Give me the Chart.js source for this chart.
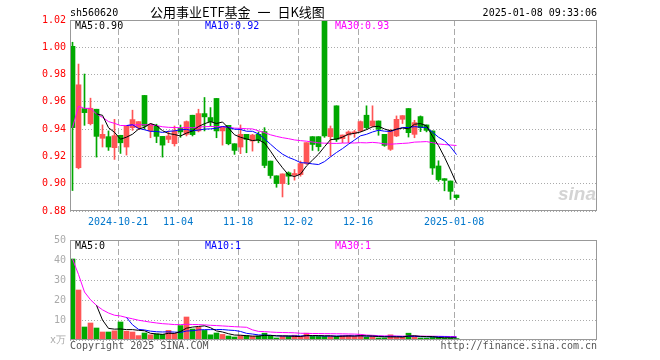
<!DOCTYPE html>
<html>
<head>
<meta charset="utf-8">
<script src="https://cdn.jsdelivr.net/npm/chart.js@4.4.1/dist/chart.umd.min.js"></script>
<style>
  body { margin: 0; background: #fff; width: 660px; height: 360px; position: relative; overflow: hidden; }
  canvas { position: absolute; left: 0; }
  .t { position: absolute; font: 10px/10px "DejaVu Sans Mono", monospace; white-space: pre; color: #000; }
</style>
</head>
<body>
<canvas id="kline" width="660" height="232" style="top:0"></canvas>
<canvas id="vol" width="660" height="130" style="top:230px"></canvas>

<div class="t" style="left:70px;top:8px">sh560620</div>
<div class="t" style="left:150px;top:5px;font:13px/14px 'Noto Sans CJK SC',sans-serif;word-spacing:4px">公用事业ETF基金 一 日K线图</div>
<div class="t" style="right:63px;top:8px">2025-01-08 09:33:06</div>
<div class="t" style="left:75px;top:21px">MA5:0.90</div>
<div class="t" style="left:205px;top:21px;color:#0000ff">MA10:0.92</div>
<div class="t" style="left:335px;top:21px;color:#ff00ff">MA30:0.93</div>
<div class="t" style="left:75px;top:241px">MA5:0</div>
<div class="t" style="left:205px;top:241px;color:#0000ff">MA10:1</div>
<div class="t" style="left:335px;top:241px;color:#ff00ff">MA30:1</div>
<div class="t" style="left:70px;top:341px;color:#555">Copyright 2025 SINA.COM</div>
<div class="t" style="right:63px;top:341px;color:#555">http://finance.sina.com.cn</div>
<div class="t" style="left:558px;top:184px;font:italic bold 19px/20px 'Liberation Sans',sans-serif;color:#d4d4d4">sina</div>

<script>
// ─── Data ────────────────────────────────────────────────────────────────────
const dates = [
  '2024-10-09','2024-10-10','2024-10-11','2024-10-14','2024-10-15','2024-10-16','2024-10-17','2024-10-18',
  '2024-10-21','2024-10-22','2024-10-23','2024-10-24','2024-10-25','2024-10-28','2024-10-29','2024-10-30','2024-10-31','2024-11-01',
  '2024-11-04','2024-11-05','2024-11-06','2024-11-07','2024-11-08','2024-11-11','2024-11-12','2024-11-13','2024-11-14','2024-11-15',
  '2024-11-18','2024-11-19','2024-11-20','2024-11-21','2024-11-22','2024-11-25','2024-11-26','2024-11-27','2024-11-28','2024-11-29',
  '2024-12-02','2024-12-03','2024-12-04','2024-12-05','2024-12-06','2024-12-09','2024-12-10','2024-12-11','2024-12-12','2024-12-13',
  '2024-12-16','2024-12-17','2024-12-18','2024-12-19','2024-12-20','2024-12-23','2024-12-24','2024-12-25','2024-12-26','2024-12-27',
  '2024-12-30','2024-12-31','2025-01-02','2025-01-03','2025-01-06','2025-01-07','2025-01-08'
];
const opens = [
  1.0007,0.9117,0.9551,0.9440,0.9546,0.9333,0.9345,0.9264,0.9355,0.9269,
  0.9411,0.9411,0.9647,0.9387,0.9421,0.9347,0.9325,0.9293,0.9405,0.9362,
  0.9502,0.9387,0.9514,0.9485,0.9625,0.9387,0.9428,0.9293,0.9269,0.9362,
  0.9313,0.9362,0.9382,0.9166,0.9058,0.9001,0.9080,0.9063,0.9067,0.9148,
  0.9345,0.9345,1.0300,0.9345,0.9571,0.9330,0.9357,0.9370,0.9387,0.9502,
  0.9423,0.9460,0.9362,0.9252,0.9350,0.9472,0.9551,0.9362,0.9492,0.9431,
  0.9387,0.9130,0.9037,0.9020,0.8917
];
const highs = [
  1.0037,0.9877,0.9804,0.9627,0.9546,0.9431,0.9387,0.9472,0.9355,0.9423,
  0.9539,0.9455,0.9647,0.9440,0.9436,0.9347,0.9387,0.9423,0.9430,0.9460,
  0.9502,0.9546,0.9632,0.9558,0.9625,0.9416,0.9428,0.9293,0.9431,0.9362,
  0.9362,0.9380,0.9411,0.9166,0.9058,0.9072,0.9087,0.9104,0.9166,0.9301,
  0.9345,0.9345,1.0300,0.9423,0.9571,0.9357,0.9387,0.9390,0.9460,0.9571,
  0.9571,0.9460,0.9362,0.9399,0.9497,0.9499,0.9551,0.9465,0.9497,0.9431,
  0.9387,0.9168,0.9037,0.9020,0.8917
];
const lows = [
  0.8950,0.9109,0.9428,0.9431,0.9195,0.9269,0.9244,0.9178,0.9222,0.9210,
  0.9391,0.9396,0.9399,0.9337,0.9301,0.9195,0.9301,0.9276,0.9340,0.9350,
  0.9350,0.9380,0.9387,0.9423,0.9337,0.9283,0.9285,0.9215,0.9220,0.9227,
  0.9239,0.9300,0.9117,0.9040,0.8974,0.8903,0.8994,0.9026,0.9055,0.9141,
  0.9244,0.9240,0.9340,0.9202,0.9310,0.9301,0.9301,0.9340,0.9380,0.9399,
  0.9416,0.9355,0.9274,0.9244,0.9345,0.9441,0.9342,0.9337,0.9382,0.9380,
  0.9068,0.9018,0.8948,0.8885,0.8885
];
const closes = [
  0.9411,0.9725,0.9521,0.9553,0.9347,0.9362,0.9269,0.9352,0.9300,0.9423,
  0.9470,0.9455,0.9423,0.9436,0.9347,0.9283,0.9350,0.9387,0.9380,0.9455,
  0.9360,0.9514,0.9490,0.9455,0.9387,0.9416,0.9293,0.9244,0.9362,0.9325,
  0.9357,0.9318,0.9134,0.9060,0.9001,0.9072,0.9055,0.9075,0.9148,0.9301,
  0.9288,0.9271,0.9350,0.9404,0.9325,0.9357,0.9379,0.9380,0.9455,0.9411,
  0.9460,0.9399,0.9281,0.9387,0.9472,0.9499,0.9374,0.9448,0.9411,0.9391,
  0.9115,0.9030,0.9024,0.8944,0.8898
];
// 成交量, 万
const volumes = [
  40.5,25,6.5,8.5,6,4,4,4.6,9,4.4,
  4,2.2,3.5,2.6,3,2.8,4.8,3.3,7.2,11.5,
  5.5,6.3,4.8,2.6,3.5,2.8,2,1.5,2.2,2.2,
  1.8,2,3.4,2.1,1,1.8,1.8,2.4,1.7,3.4,
  1.8,1.8,1.8,1.8,1.8,2.2,2.3,1.8,2.6,1.4,
  1.8,1,1,2.6,1.4,1.4,3.4,1.8,1,1,
  1.3,1.3,1,1,0.7
];
const tickDates  = ['2024-10-21','2024-11-04','2024-11-18','2024-12-02','2024-12-16','2025-01-08'];
const tickLabels = ['2024-10-21','11-04','11-18','12-02','12-16','2025-01-08'];
const priceTicks = [0.88, 0.90, 0.92, 0.94, 0.96, 0.98, 1.00, 1.02];
const volTicks   = [0, 10, 20, 30, 40, 50];

// ─── Helpers ─────────────────────────────────────────────────────────────────
const UP = '#ff5555', DOWN = '#00a800';
const MONO = { family: 'DejaVu Sans Mono', size: 10 };
const X_MIN = -2.5 / 6, X_MAX = X_MIN + 527 / 6;   // 6px per trading day
const tickIdx = tickDates.map(d => dates.indexOf(d));
const barColors = closes.map((c, i) => c >= opens[i] ? UP : DOWN);

function movingAvg(vals, n, partial) {
  return vals.map((_, i) => {
    if (i < n - 1 && !partial) return null;
    const win = vals.slice(Math.max(0, i - n + 1), i + 1);
    return win.reduce((a, b) => a + b, 0) / win.length;
  });
}
const pts = arr => arr.map((v, i) => ({ x: i, y: v }));
const maLine = (arr, color) => ({
  type: 'line', data: pts(arr), borderColor: color, borderWidth: 1,
  pointRadius: 0, fill: false, order: 0
});

const framePlugin = {
  id: 'frame',
  afterDatasetsDraw(chart) {
    const { ctx, chartArea: a } = chart;
    ctx.save();
    ctx.strokeStyle = '#999';
    ctx.lineWidth = 1;
    ctx.strokeRect(a.left + 0.5, a.top + 0.5, a.right - a.left - 1, a.bottom - a.top - 1);
    ctx.restore();
  }
};

function xScale(showLabels, height) {
  return {
    type: 'linear', min: X_MIN, max: X_MAX, offset: false,
    afterBuildTicks: s => { s.ticks = tickIdx.map(i => ({ value: i - 0.4 })); },
    afterFit: s => { s.height = height; },
    grid: { color: '#aaa', drawTicks: false, offset: false },
    border: { display: false, dash: [6, 3] },
    ticks: {
      display: showLabels, autoSkip: false, maxRotation: 0, padding: 5,
      color: '#0077cc', font: MONO,
      callback: (v, idx) => tickLabels[idx]
    }
  };
}

const common = {
  responsive: false, animation: false, devicePixelRatio: 1, events: [],
  plugins: { legend: { display: false }, tooltip: { enabled: false } }
};

// ─── K-line chart ────────────────────────────────────────────────────────────
new Chart(document.getElementById('kline'), {
  type: 'bar',
  data: {
    datasets: [
      maLine(movingAvg(closes, 5), '#000000'),
      maLine(movingAvg(closes, 10), '#0000ff'),
      maLine(movingAvg(closes, 30, true), '#ff00ff'),
      { data: opens.map((o, i) => ({ x: i, y: [o, closes[i]] })), backgroundColor: barColors,
        barThickness: 5, minBarLength: 1, grouped: false, order: 1 },
      { data: lows.map((l, i) => ({ x: i, y: [l, highs[i]] })), backgroundColor: barColors,
        barThickness: 1, grouped: false, order: 2 }
    ]
  },
  options: {
    ...common,
    layout: { padding: { left: 0, top: 20, right: 63, bottom: 0 } },
    scales: {
      x: xScale(true, 21),
      y: {
        min: 0.88, max: 1.02,
        afterBuildTicks: s => { s.ticks = priceTicks.map(v => ({ value: v })); },
        afterFit: s => { s.width = 70; },
        grid: { color: '#aaa', drawTicks: false },
        border: { display: false, dash: [1, 2] },
        ticks: { color: '#ff0000', font: MONO, padding: 4, callback: v => v.toFixed(2) }
      }
    }
  },
  plugins: [framePlugin]
});

// ─── Volume chart ────────────────────────────────────────────────────────────
new Chart(document.getElementById('vol'), {
  type: 'bar',
  data: {
    datasets: [
      maLine(movingAvg(volumes, 5), '#000000'),
      maLine(movingAvg(volumes, 10), '#0000ff'),
      maLine(movingAvg(volumes, 30, true), '#ff00ff'),
      { data: pts(volumes), backgroundColor: barColors, barThickness: 5, grouped: false, order: 1 }
    ]
  },
  options: {
    ...common,
    layout: { padding: { left: 0, top: 10, right: 63, bottom: 0 } },
    scales: {
      x: xScale(false, 20),
      y: {
        min: 0, max: 50,
        afterBuildTicks: s => { s.ticks = volTicks.map(v => ({ value: v })); },
        afterFit: s => { s.width = 70; },
        grid: { color: '#aaa', drawTicks: false },
        border: { display: false, dash: [1, 2] },
        ticks: { color: '#aaaaaa', font: MONO, padding: 4, callback: v => v === 0 ? 'x万' : String(v) }
      }
    }
  },
  plugins: [framePlugin]
});
</script>
</body>
</html>
